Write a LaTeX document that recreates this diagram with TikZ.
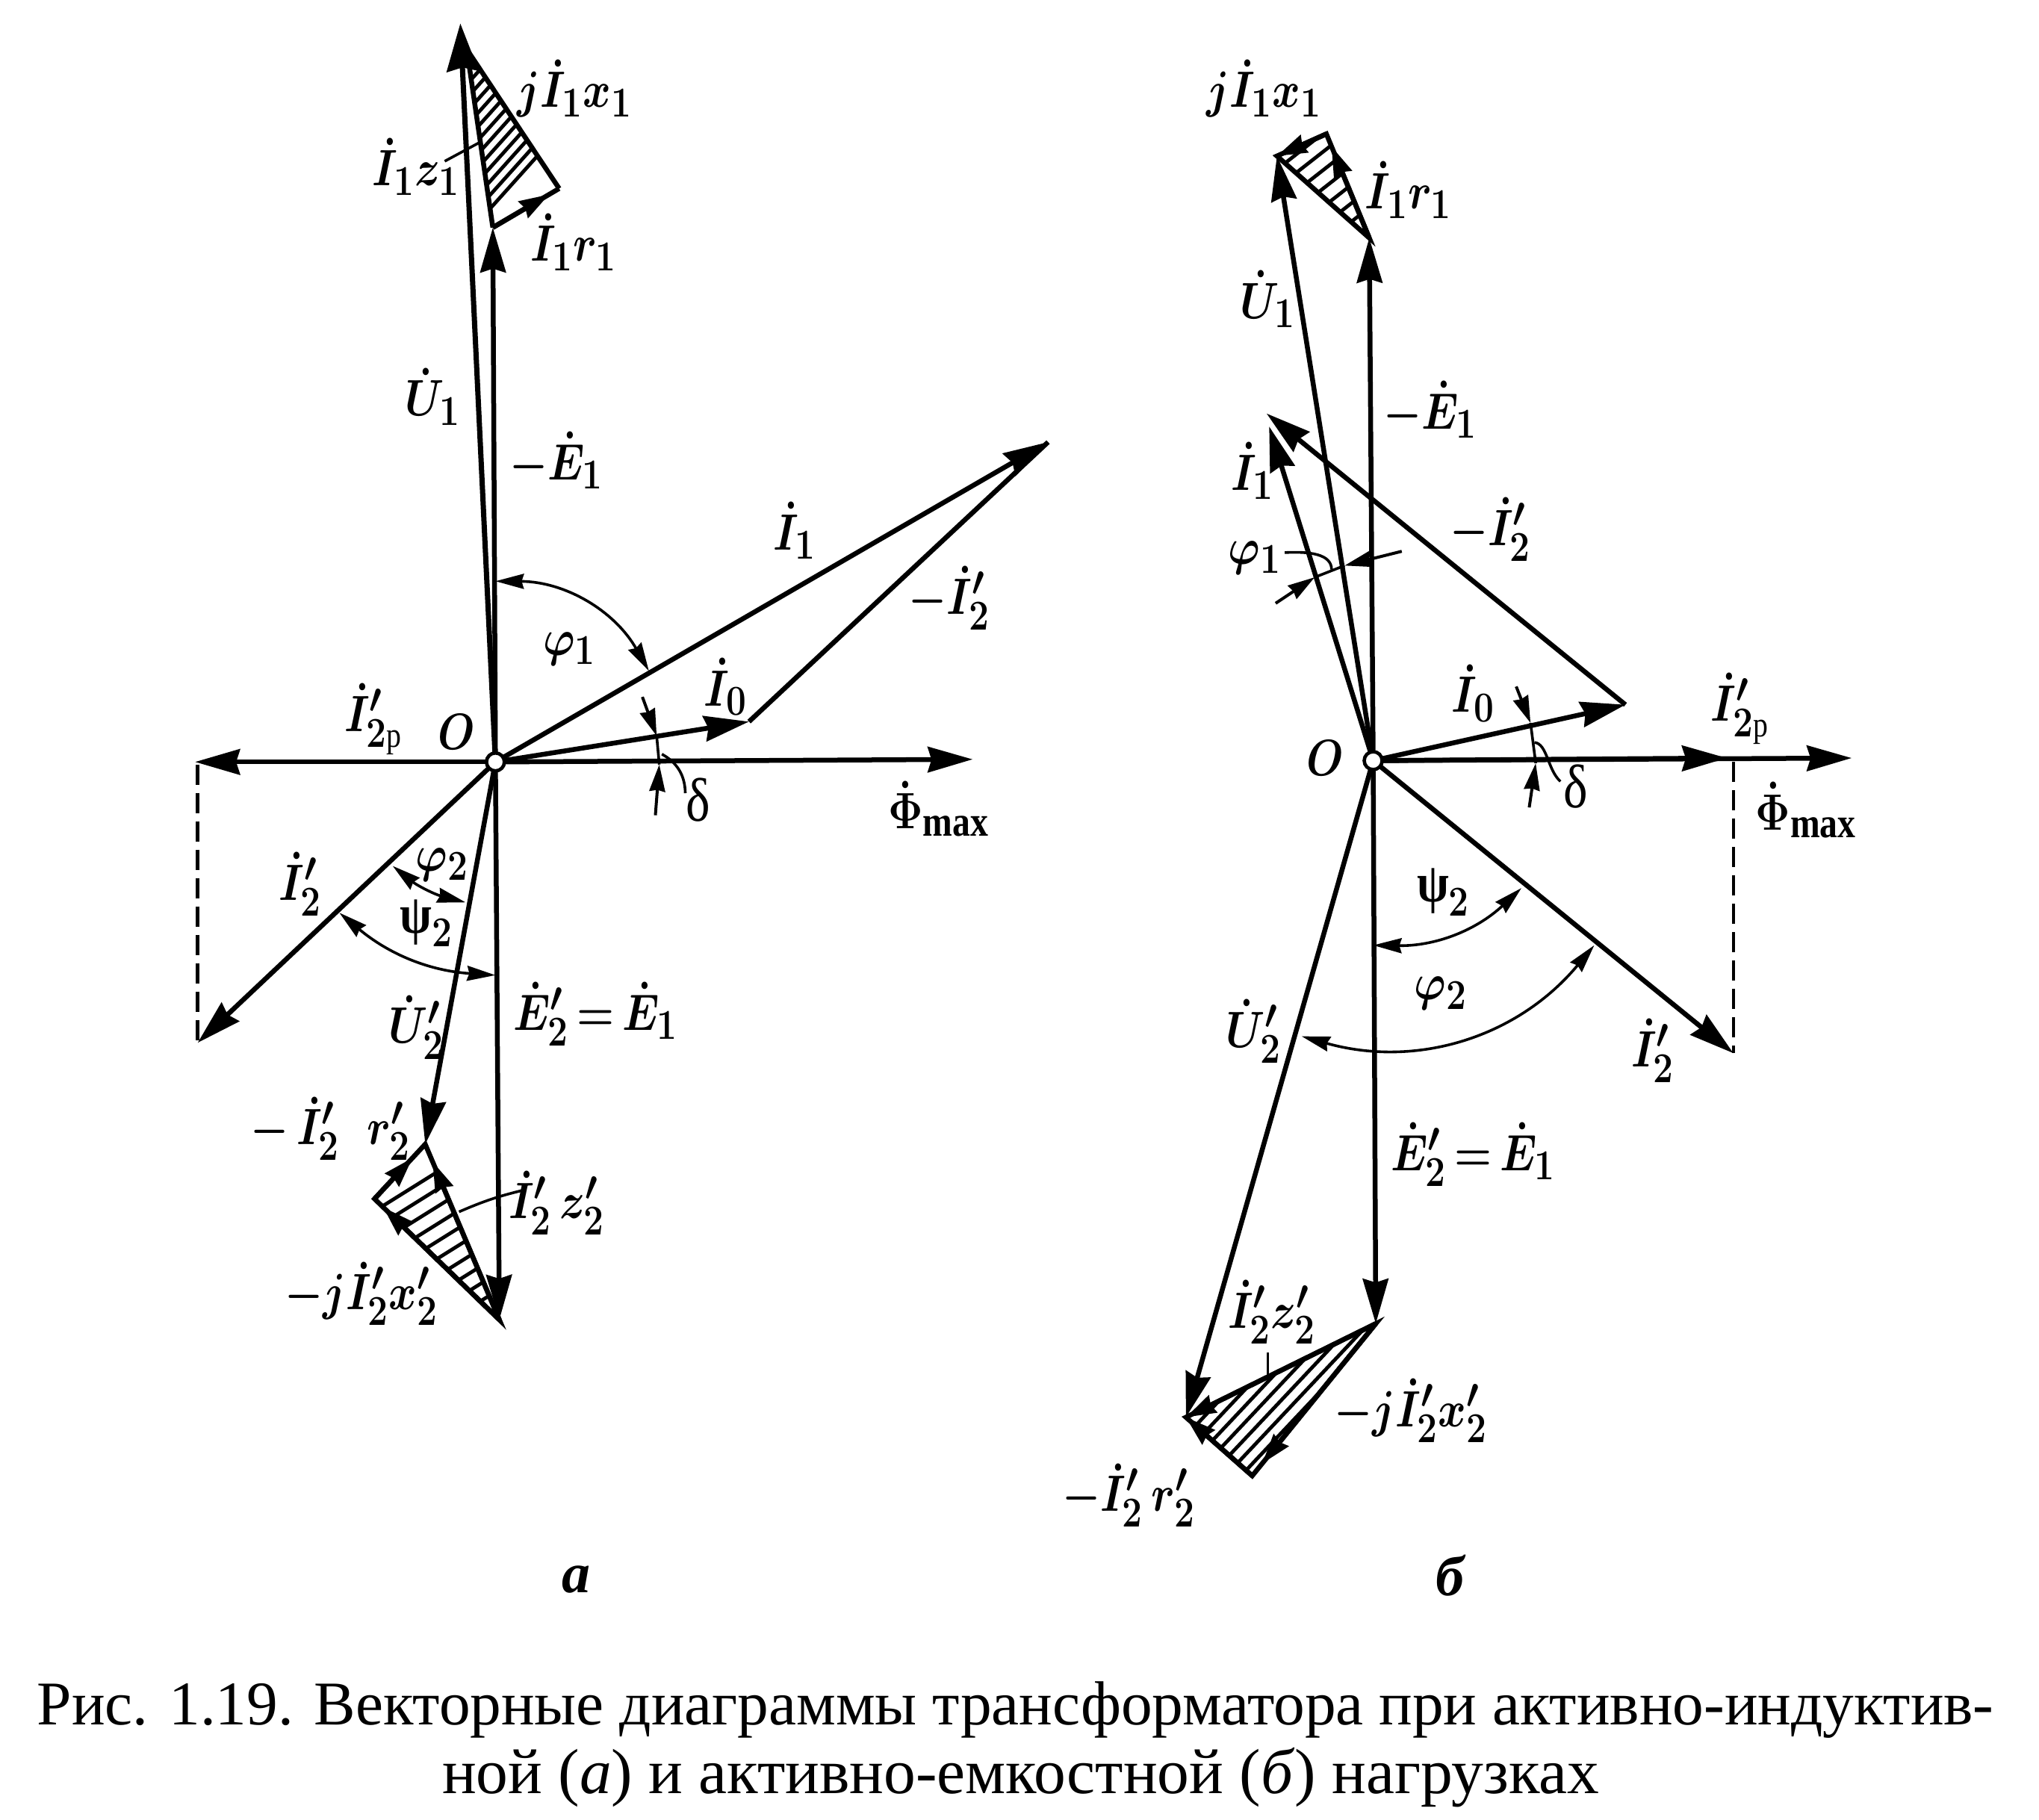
\documentclass[tikz,border=0pt]{standalone}
\usepackage{fontspec}
\setmainfont{Liberation Serif}
\usetikzlibrary{arrows.meta,calc}
\tikzset{
  basel/.style={line cap=butt,line join=miter},
  vec/.style={basel,line width=6.5pt,-{Stealth[length=60pt,width=34pt,inset=5pt]}},
  vecbig/.style={basel,line width=7pt,-{Stealth[length=64pt,width=42pt,inset=5pt]}},
  sideline/.style={basel,line width=6.5pt},
  tri/.style={basel,line width=6.5pt,-{Stealth[length=40pt,width=25pt,inset=3pt]}},
  ang/.style={basel,line width=3.6pt,{Stealth[length=38pt,width=20pt,inset=3pt]}-{Stealth[length=38pt,width=20pt,inset=3pt]}},
  ticka/.style={basel,line width=4pt,-{Stealth[length=36pt,width=21pt,inset=2pt]}},
  thinline/.style={basel,line width=3.6pt},
  hatchl/.style={line width=4.8pt},
  dashl/.style={line width=4.5pt,dash pattern=on 27pt off 11pt},
  lbl/.style={inner sep=0pt},
  captext/.style={inner sep=0pt,font=\fontsize{83.3}{96}\selectfont},
  captextb/.style={inner sep=0pt,font=\fontsize{85.5}{96}\selectfont},
  letterl/.style={inner sep=0pt,font=\fontsize{76}{80}\selectfont\bfseries\itshape},
  zero/.style={circle,draw,fill=white,line width=4.6pt,minimum size=24pt,inner sep=0pt}
}
\newcommand{\lb}[1]{\scalebox{2.3}[2.75]{\fontsize{24.88}{30}\selectfont\boldmath $#1$}}
\newcommand{\pp}{\mbox{\fontsize{17.3}{20}\selectfont р}}
\newcommand{\txg}[1]{\mbox{\bfseries\fontsize{27}{30}\selectfont #1}}
\newcommand{\txd}[1]{\mbox{\fontsize{30}{30}\selectfont #1}}
\begin{document}
\begin{tikzpicture}[x=1.741pt,y=-1.741pt]
\useasboundingbox (0,0) rectangle (1568.05,1399.2);
% ---------- a: points
\coordinate (O) at (381,586);
\coordinate (Ua) at (354,18);
\coordinate (Ea) at (379,175);
\coordinate (Ra) at (430,145);
\coordinate (Xa) at (359,38);
\coordinate (Ia) at (806,340);
\coordinate (Iza) at (576,555);
\coordinate (Fa) at (748,584);
\coordinate (Ipa) at (150,586);
\coordinate (Iqa) at (152,802);
\coordinate (Dpa) at (152,588);
\coordinate (Uba) at (327,880);
\coordinate (Eba) at (384,1015);
\coordinate (Rba) at (288,922);
% hatching a
\begin{scope}
\clip (Ea) -- (Ra) -- (Xa) -- cycle;
\foreach \k in {0,...,12} \draw[hatchl] ($(345,70)+(0,\k*10.5)$) -- ++(70,-78);
\end{scope}
\begin{scope}
\clip (Uba) -- (Rba) -- (Eba) -- cycle;
\foreach \k in {0,...,10} \draw[hatchl] ($(284,934)+(\k*8.4,\k*8.1)$) -- ++(80,-50);
\end{scope}
\draw[vecbig] (O) -- (Ua);
\draw[vec] (O) -- (Ea);
\draw[sideline] (Ea) -- (Xa);
\draw[sideline] (Ra) -- (Xa);
\draw[sideline] (Ea) -- (Ra);
\draw[tri] (Ea) -- ($(Ea)!0.85!(Ra)$);
\draw[vec] (O) -- (Ia);
\draw[vec] (O) -- (Iza);
\draw[sideline] (Iza) -- (Ia);
\draw[vec] (O) -- (Fa);
\draw[vec] (O) -- (Ipa);
\draw[vec] (O) -- (Iqa);
\draw[dashl] (Dpa) -- (Iqa);
\draw[vec] (O) -- (Uba);
\draw[vec] (O) -- (Eba);
\draw[sideline] (Uba) -- (Rba) -- (Eba) -- cycle;
\draw[tri] (Rba) -- ($(Rba)!0.75!(Uba)$);
\draw[tri] (Eba) -- ($(Eba)!0.9!(Uba)$);
\draw[tri] (Eba) -- ($(Eba)!0.93!(Rba)$);
% angles a
\coordinate (f1a) at (381,447); \coordinate (f1b) at (499,516);
\draw[ang] (f1a) to[bend left=30] (f1b);
\coordinate (f2a) at (302,666); \coordinate (f2b) at (358,694);
\draw[ang] (f2a) to[bend right=12] (f2b);
\coordinate (p2a) at (261,702); \coordinate (p2b) at (381,750);
\draw[ang] (p2a) to[bend right=18] (p2b);
\coordinate (d1a) at (494,536); \coordinate (d1b) at (505,566);
\draw[ticka] (d1a) -- (d1b);
\coordinate (d2a) at (504,627); \coordinate (d2b) at (507,588);
\draw[ticka] (d2a) -- (d2b);
\draw[thinline] (d1b) -- (d2b);
\coordinate (d3a) at (509,580); \coordinate (d3b) at (527,610);
\draw[thinline] (d3a) to[bend left=30] (d3b);
\coordinate (zl1) at (342,124); \coordinate (zl2) at (368,110);
\draw[thinline] (zl1) -- (zl2);
\coordinate (zl3) at (353,932); \coordinate (zl4) at (404,915);
\draw[thinline] (zl3) to[bend left=5] (zl4);
\node[zero] (Oa) at (O) {};
% ---------- б: points
\coordinate (Q) at (1056,585);
\coordinate (Ub) at (982,120);
\coordinate (Eb) at (1053,183);
\coordinate (Rb) at (1020,103);
\coordinate (Ib) at (976,328);
\coordinate (Izb) at (1250,542);
\coordinate (Jb) at (974,318);
\coordinate (Fb) at (1424,583);
\coordinate (Ipb) at (1328,583);
\coordinate (Iqb) at (1333,810);
\coordinate (Dpb) at (1333,586);
\coordinate (Ubb) at (912,1090);
\coordinate (Ebb) at (1058,1018);
\coordinate (Rbb) at (963,1135);
\begin{scope}
\clip (Eb) -- (Rb) -- (Ub) -- cycle;
\foreach \k in {0,...,8} \draw[hatchl] ($(985,128)+(\k*8.5,\k*7.5)$) -- ++(60,-47);
\end{scope}
\begin{scope}
\clip (Ebb) -- (Ubb) -- (Rbb) -- cycle;
\foreach \k in {0,...,7} \draw[hatchl] ($(918,1098)+(\k*6.4,\k*5.8)$) -- ++(130,-138);
\end{scope}
\draw[vec] (Q) -- (Ub);
\draw[vec] (Q) -- (Eb);
\draw[sideline] (Eb) -- (Rb) -- (Ub) -- cycle;
\draw[tri] (Eb) -- ($(Eb)!0.88!(Rb)$);
\draw[tri] (Rb) -- (Ub);
\draw[vec] (Q) -- (Ib);
\draw[vec] (Q) -- (Izb);
\draw[vec] (Izb) -- (Jb);
\draw[vec] (Q) -- (Fb);
\draw[vec] (Q) -- (Ipb);
\draw[vec] (Q) -- (Iqb);
\draw[dashl] (Dpb) -- (Iqb);
\draw[vec] (Q) -- (Ubb);
\draw[vec] (Q) -- (Ebb);
\draw[sideline] (Ebb) -- (Ubb) -- (Rbb) -- cycle;
\draw[tri] (Ebb) -- (Ubb);
\draw[tri] (Rbb) -- (Ubb);
\draw[tri] (Ebb) -- ($(Ebb)!0.92!(Rbb)$);
% angles b
\coordinate (g1a) at (1078,424); \coordinate (g1b) at (1034,435);
\draw[ticka] (g1a) -- (g1b);
\coordinate (g2a) at (981,464); \coordinate (g2b) at (1011,444);
\draw[ticka] (g2a) -- (g2b);
\draw[thinline] (g2b) -- (g1b);
\coordinate (g3a) at (988,425); \coordinate (g3b) at (1024,438);
\draw[thinline] (g3a) .. controls (1007,424) and (1024,426) .. (g3b);
\coordinate (s2a) at (1056,727); \coordinate (s2b) at (1170,683);
\draw[ang] (s2a) to[bend right=22] (s2b);
\coordinate (h2a) at (1001,797); \coordinate (h2b) at (1226,727);
\draw[ang] (h2a) to[bend right=33] (h2b);
\coordinate (e1a) at (1166,528); \coordinate (e1b) at (1177,556);
\draw[ticka] (e1a) -- (e1b);
\coordinate (e2a) at (1176,621); \coordinate (e2b) at (1181,587);
\draw[ticka] (e2a) -- (e2b);
\draw[thinline] (e1b) -- (e2b);
\coordinate (e3a) at (1180,571); \coordinate (e3b) at (1200,601);
\draw[thinline] (e3a) .. controls (1190,572) and (1190,592) .. (e3b);
\coordinate (zb1) at (975,1040); \coordinate (zb2) at (975,1062);
\draw[thinline] (zb1) -- (zb2);
\node[zero] (Ob) at (Q) {};
% ---------- labels a
\node[lbl] (a1) at (442,68) {\lb{j\dot I_1x_1}};
\node[lbl] (a2) at (320,128) {\lb{\dot I_1z_1}};
\node[lbl] (a3) at (441,186) {\lb{\dot I_1r_1}};
\node[lbl] (a4) at (333,305) {\lb{\dot U_1}};
\node[lbl] (a5) at (428,354) {\lb{-\dot E_1}};
\node[lbl] (a6) at (611,408) {\lb{\dot I_1}};
\node[lbl] (a7) at (730,460) {\lb{-\dot I_2'}};
\node[lbl] (a8) at (438,499) {\lb{\varphi_1}};
\node[lbl] (a9) at (558,528) {\lb{\dot I_0}};
\node[lbl] (a10) at (287,553) {\lb{\dot I_{2\pp}'}};
\node[lbl] (a11) at (351,563) {\lb{O}};
\node[lbl] (a12) at (537,615) {\lb{\txd{δ}}};
\node[lbl] (a13) at (722,622) {\lb{\dot\Phi_{\mathrm{max}}}};
\node[lbl] (a14) at (231,680) {\lb{\dot I_2'}};
\node[lbl] (a15) at (340,665) {\lb{\varphi_2}};
\node[lbl] (a16) at (328,710) {\lb{\txg{ψ}_2}};
\node[lbl] (a17) at (320,790) {\lb{\dot U_2'}};
\node[lbl] (a18) at (458,780) {\lb{\dot E_2'{\,=\,}\dot E_1}};
\node[lbl] (a19) at (254,868) {\lb{-\,\dot I_2'\;\;r_2'}};
\node[lbl] (a20) at (428,925) {\lb{\dot I_2'\,z_2'}};
\node[lbl] (a21) at (278,995) {\lb{-j\dot I_2'x_2'}};
% ---------- labels b
\node[lbl] (b1) at (972,68) {\lb{j\dot I_1x_1}};
\node[lbl] (b2) at (1083,146) {\lb{\dot I_1r_1}};
\node[lbl] (b3) at (975,230) {\lb{\dot U_1}};
\node[lbl] (b4) at (1100,315) {\lb{-\dot E_1}};
\node[lbl] (b5) at (963,362) {\lb{\dot I_1}};
\node[lbl] (b6) at (1146,407) {\lb{-\dot I_2'}};
\node[lbl] (b7) at (965,429) {\lb{\varphi_1}};
\node[lbl] (b8) at (1133,533) {\lb{\dot I_0}};
\node[lbl] (b9) at (1019,583) {\lb{O}};
\node[lbl] (b10) at (1338,545) {\lb{\dot I_{2\pp}'}};
\node[lbl] (b11) at (1212,605) {\lb{\txd{δ}}};
\node[lbl] (b12) at (1389,623) {\lb{\dot\Phi_{\mathrm{max}}}};
\node[lbl] (b13) at (1110,686) {\lb{\txg{ψ}_2}};
\node[lbl] (b14) at (1108,764) {\lb{\varphi_2}};
\node[lbl] (b15) at (964,793) {\lb{\dot U_2'}};
\node[lbl] (b16) at (1271,808) {\lb{\dot I_2'}};
\node[lbl] (b17) at (1133,888) {\lb{\dot E_2'{\,=\,}\dot E_1}};
\node[lbl] (b18) at (978,1009) {\lb{\dot I_2'z_2'}};
\node[lbl] (b19) at (1085,1085) {\lb{-j\dot I_2'x_2'}};
\node[lbl] (b20) at (868,1150) {\lb{-\dot I_2'\,r_2'}};
% ---------- captions
\node[letterl] (sa) at (443,1215) {а};
\node[letterl] (sb) at (1115,1212) {б};
\node[captext] (c1) at (781,1315) {Рис. 1.19. Векторные диаграммы трансформатора при активно-индуктив-};
\node[captextb] (c2) at (785,1367) {ной (\textit{а}) и активно-емкостной (\textit{б}) нагрузках};
\end{tikzpicture}
\end{document}
